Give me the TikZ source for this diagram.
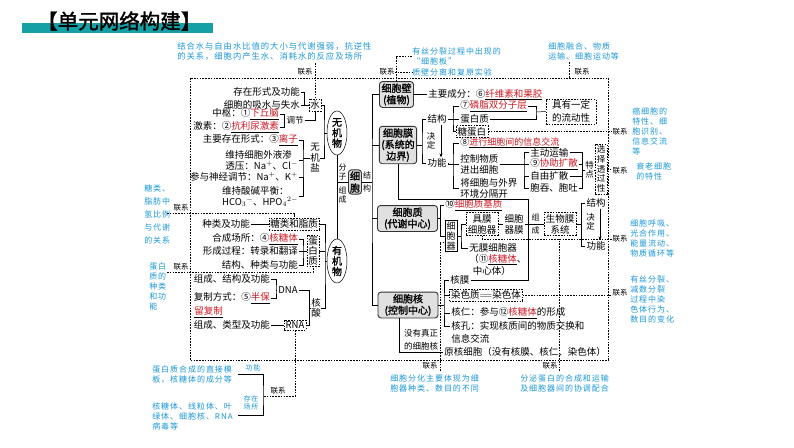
\documentclass[tikz,border=0pt]{standalone}
\usepackage{fontspec}
\setmainfont{Noto Sans CJK SC}
\newfontfamily\cjkbold{Noto Sans CJK SC}[FakeBold=1.6]
\newfontfamily\notefont{Noto Sans CJK SC}[LetterSpace=12]
\usetikzlibrary{shapes.geometric,arrows.meta}
\definecolor{handblue}{RGB}{25,150,215}
\definecolor{ansred}{RGB}{205,25,35}
\definecolor{titleteal}{RGB}{20,160,165}
\newcommand{\ans}[1]{\underline{\textcolor{ansred}{#1}}}

\begin{document}
\begin{tikzpicture}[x=1pt,y=-1pt,line width=0.5pt,
  every node/.style={inner sep=1pt,font=\fontsize{9.5}{11}\selectfont},
  bigbox/.style={draw=black!80,fill=black!12,line width=0.9pt,rounded corners=3pt,align=center,inner sep=2pt,font=\fontsize{10}{11.5}\cjkbold},
  dl/.style={dash pattern=on 1.6pt off 1.2pt,line width=0.45pt},
  dbox/.style={draw,dl,align=center,inner sep=1.5pt},
  ellnode/.style={draw,ellipse,align=center,inner sep=0pt,minimum width=20pt,minimum height=44pt,font=\fontsize{10}{10.5}\cjkbold},
  vtxt/.style={align=center,inner sep=0pt,font=\fontsize{8.5}{9.5}\selectfont},
  note/.style={text=handblue,align=left,inner sep=0pt,font=\fontsize{8}{10}\notefont},
  lianxi/.style={inner sep=0pt,font=\fontsize{7.5}{9}\selectfont}]
\useasboundingbox (0,0) rectangle (794,447);
\fill[titleteal] (22,23) rectangle (213,33);
\node[anchor=west,inner sep=0pt,font=\fontsize{20.5}{22}\cjkbold] (biaoti) at (37,21) {【单元网络构建】};
\draw[dl] (190,78) rectangle (608,360);

\node[anchor=east] (cunzai) at (301,92) {存在形式及功能};
\node[anchor=east] (xishui) at (301,105) {细胞的吸水与失水};
\node[dbox] (shui) at (315,105) {水};
\node[anchor=east] (zhongshu) at (280,114) {中枢：①\ans{下丘脑}};
\node[anchor=east] (jisu) at (280,127) {激素：②\ans{抗利尿激素}};
\node[font=\fontsize{8.5}{10}\selectfont] (tiaojie) at (295,120) {调节};
\draw (cunzai.east) -| ([xshift=3pt]xishui.east) -- (xishui.east);
\draw (xishui.east) -- (shui.west);
\draw (zhongshu.east) -| ([xshift=-1pt]tiaojie.west) |- (jisu.east);
\draw (tiaojie.east) -| (shui.south);

\node[anchor=east] (lizi) at (299,140) {主要存在形式：③\ans{离子}};
\node[anchor=east,align=left] (shentou) at (299,160) {维持细胞外液渗\\透压：Na$^+$、Cl$^-$};
\node[anchor=east] (shenjing) at (299,177) {参与神经调节：Na$^+$、K$^+$};
\node[anchor=north east,align=left] (suanjian) at (299,185) {维持酸碱平衡：\\HCO$_3{}^-$、HPO$_4{}^{2-}$};
\node[vtxt,font=\fontsize{9.5}{10.5}\selectfont] (wujiyan) at (315,158) {无\\机\\盐};
\coordinate (kyan) at (303,158);
\draw (lizi.east) -| (kyan) |- (suanjian.east);
\draw (shentou.east) -- (shentou.east -| kyan);
\draw (shenjing.east) -- (shenjing.east -| kyan);
\draw (kyan) -- (wujiyan.west);
\node[ellnode] (wujiwu) at (337,133) {无\\机\\物};
\coordinate (kwu) at (324,133);
\draw (shui.east) -| (kwu) |- (wujiyan.east);
\draw (kwu) -- (wujiwu.west);

\node[anchor=east] (zhonglei) at (251,224) {种类及功能};
\node[dbox] (tangzhi) at (294,224) {糖类和脂质};
\draw (zhonglei.east) -- (tangzhi.west);
\node[anchor=east] (hecheng) at (299,239) {合成场所：④\ans{核糖体}};
\node[anchor=east] (guocheng) at (299,251) {形成过程：转录和翻译};
\node[anchor=east] (jiegou) at (299,265) {结构、种类与功能};
\node[dbox,font=\fontsize{9.5}{10}\selectfont] (danbai) at (313,251) {蛋\\白\\质};
\coordinate (kdan) at (303,251);
\draw (hecheng.east) -| (kdan) |- (jiegou.east);
\draw (guocheng.east) -- (danbai.west);
\node[ellnode] (youjiwu) at (337,261) {有\\机\\物};

\node[anchor=east] (zuchengD) at (271,279) {组成、结构及功能};
\node[anchor=east] (fuzhi) at (271,298) {复制方式：⑤\ans{半保}};
\node[anchor=west] (liufuzhi) at (193,312) {\ans{留复制}};
\node (dna) at (288,290) {DNA};
\coordinate (kdna) at (276,290);
\draw (zuchengD.east) -| (kdna) |- (fuzhi.east);
\draw (kdna) -- (dna.west);
\node[anchor=east] (zuchengR) at (271,325) {组成、类型及功能};
\node[dbox] (rna) at (295,325) {RNA};
\draw (zuchengR.east) -- (rna.west);
\node[vtxt,font=\fontsize{9.5}{10.5}\selectfont] (hesuan) at (316,308) {核\\酸};
\coordinate (khe) at (309.5,308);
\draw (dna.east) -| (khe) |- (rna.east);
\draw (khe) -- (hesuan.west);
\coordinate (kyou) at (325,261);
\draw (tangzhi.east) -| (kyou) |- (hesuan.east);
\draw (danbai.east) -- (danbai.east -| kyou);
\draw (kyou) -- (youjiwu.west);

\node[bigbox,inner sep=1.5pt,font=\fontsize{10}{12}\cjkbold] (xibao) at (355,182) {细\\胞};
\draw (wujiwu.south) -- (youjiwu.north);
\draw (wujiwu.south |- xibao.west) -- (xibao.west);
\node[vtxt,font=\fontsize{8}{9}\selectfont] (fenzi) at (342.5,172) {分\\子};
\node[vtxt,font=\fontsize{8}{9}\selectfont] (zucheng) at (342.5,195) {组\\成};
\node[vtxt,font=\fontsize{8}{9}\selectfont] (jiegouA) at (367,182) {结\\[4pt]构};
\coordinate (kxb) at (372,182);
\draw (xibao.east) -- (kxb);

\node[bigbox] (bi) at (396.5,94.5) {细胞壁\\(植物)};
\node[bigbox] (mo) at (398,145) {细胞膜\\(系统的\\边界)};
\node[bigbox,minimum width=60pt] (zhi) at (407.5,218.5) {细胞质\\(代谢中心)};
\node[bigbox,minimum width=60pt] (he) at (408,305) {细胞核\\(控制中心)};
\draw (bi.west) -| (kxb) |- (he.west);
\draw (mo.west) -- (mo.west -| kxb);
\draw (zhi.west) -- (zhi.west -| kxb);

\node[anchor=west] (chengfen) at (427,94.5) {主要成分：⑥\ans{纤维素和果胶}};
\draw (bi.east) -- (chengfen.west);

\node (jg) at (437,119) {结构};
\node (gn) at (437,163) {功能};
\node[vtxt] (jdA) at (431,141) {决\\定};
\draw[-{Stealth[length=4pt,width=3pt]}] ([xshift=4pt]jg.south) -- ([xshift=4pt]gn.north);
\coordinate (kmo) at (422,145);
\draw (jg.west) -| (kmo) |- (gn.west);
\draw (mo.east) -- (kmo);
\node[anchor=west] (linzhi) at (459,106) {⑦\ans{磷脂双分子层}};
\node[anchor=west] (dbz) at (459,119) {蛋白质};
\node[dbox,anchor=west] (tdb) at (456,131.5) {糖蛋白};
\coordinate (kjg) at (453,119);
\draw (linzhi.west) -| (kjg) |- (tdb.west);
\draw (jg.east) -- (dbz.west);
\node[dbox,minimum width=50pt,font=\fontsize{9.5}{13}\selectfont] (liudong) at (571,111.5) {具有一定\\的流动性};
\coordinate (kld) at (536,112);
\draw (linzhi.east) -| (kld) |- (dbz.east);
\draw (kld) -- (liudong.west);

\node[anchor=west] (zhudong) at (529,152.5) {主动运输};
\node[anchor=west,font=\fontsize{9}{10}\selectfont] (xinxi) at (459,143) {⑧\ans{进行细胞间的信息交流}};
\node[anchor=west,align=left] (kongzhi) at (459,164) {控制物质\\进出细胞};
\node[anchor=west,align=left] (fenge) at (459,188) {将细胞与外界\\环境分隔开};
\coordinate (kgn) at (453,164);
\draw (xinxi.west) -| (kgn) |- (fenge.west);
\draw (gn.east) |- (kongzhi.west);
\node[anchor=west] (xiezhu) at (529,164) {⑨\ans{协助扩散}};
\node[anchor=west] (ziyou) at (529,176) {自由扩散};
\node[anchor=west] (baotun) at (529,188) {胞吞、胞吐};
\coordinate (kzd) at (524,164);
\draw (zhudong.west) -| (kzd) |- (baotun.west);
\draw (kongzhi.east) -- (xiezhu.west);
\draw (ziyou.west) -- (ziyou.west -| kzd);
\coordinate (ktd) at (582,170);
\node[vtxt] (tedian) at (589.5,170) {特\\点};
\node[dbox,font=\fontsize{8.5}{9.7}\selectfont] (xzt) at (601,169) {选\\择\\透\\过\\性};
\draw (zhudong.east) -| (ktd) |- (baotun.east);
\draw (xiezhu.east) -- (xiezhu.east -| ktd);
\draw (ziyou.east) -- (ziyou.east -| ktd);
\draw (ktd) -- (tedian.west);
\draw (tedian.east) -- (tedian.east -| xzt.west);

\node[anchor=west] (jizhi) at (444,205) {⑩\ans{细胞质基质}};
\node[draw,align=center,inner sep=1.5pt,font=\fontsize{9}{10}\selectfont] (qiguan) at (451,236) {细\\胞\\器};
\coordinate (kzhi) at (440.5,218.5);
\draw (jizhi.west) -| (kzhi) |- (qiguan.west);
\draw (zhi.east) -- (kzhi);
\node[dbox] (jumo) at (482,224) {具膜\\细胞器};
\node (wumo) at (493,248) {无膜细胞器};
\node[anchor=west,align=left,font=\fontsize{9.5}{10}\selectfont] (wumoB) at (468,264.5) {（⑪\ans{核糖体}、\\\ \,中心体）};
\coordinate (kqg) at (461,236);
\draw (jumo.west) -| (kqg) |- (wumo.west);
\draw (qiguan.east) -- (kqg);
\node[align=center] (qgm) at (514,224) {细胞\\器膜};
\draw (jumo.east) -- (qgm.west);
\coordinate (kmm) at (528,199);
\node[vtxt,font=\fontsize{8}{9}\selectfont] (zcB) at (535.5,224) {组\\[4pt]成};
\node[dbox] (smx) at (560,224) {生物膜\\系统};
\draw (qgm.east) -- (smx.west);
\node (jgB) at (596,203) {结构};
\node (gnB) at (596,246) {功能};
\node[vtxt] (jdB) at (590.5,222) {决\\定};
\draw[-{Stealth[length=4pt,width=3pt]}] ([xshift=4pt]jgB.south) -- ([xshift=4pt]gnB.north);
\coordinate (ksm) at (581,224);
\draw (jgB.west) -| (ksm) |- (gnB.west);
\draw (smx.east) -- (ksm);

\node[anchor=west] (hemo) at (449,280) {核膜};
\node[dbox] (rst) at (486,295) {染色质$=\!=$染色体};
\node[anchor=west] (heren) at (450,313) {核仁：参与⑫\ans{核糖体}的形成};
\node[anchor=west] (hekong) at (450,326) {核孔：实现核质间的物质交换和};
\node[anchor=west] (xinxiB) at (450,339) {信息交流};
\coordinate (khx) at (444,305);
\draw (hemo.west) -| (khx) |- (hekong.west);
\draw (rst.west) -- (rst.west -| khx);
\draw (heren.west) -- (heren.west -| khx);
\draw (he.east) -- (khx);
\draw (mo.south) |- (kmm) -- (kmm |- hemo.east) -- (hemo.east);
\node[anchor=west] (yuanhe) at (443,352) {原核细胞（没有核膜、核仁、染色体）};
\node[align=left,font=\fontsize{8.5}{13}\selectfont] (mei) at (421,340) {没有真正\\的细胞核};
\draw ([xshift=-9pt]he.south) |- (yuanhe.west);

\node[note,anchor=north west,font=\fontsize{8.3}{10}\notefont] (n_shui) at (177,42) {结合水与自由水比值的大小与代谢强弱，抗逆性\\的关系，细胞内产生水、消耗水的反应及场所};
\node[lianxi] (lx1) at (305,72) {联系};
\coordinate (c1) at (315,63);
\draw[dl] (c1) -- (c1 |- shui.north);
\node[note,anchor=north west] (n_bi1) at (412,47) {有丝分裂过程中出现的\\“细胞板”};
\node[note,anchor=west] (n_bi2) at (412,72) {质壁分离和复原实验};
\node[lianxi] (lx2) at (387,72) {联系};
\draw[dl] (n_bi1.west) -| (bi.north);
\draw[dl] (lx2.east) -- (n_bi2.west);
\node[note,anchor=north west] (n_mo) at (548,42) {细胞融合、物质\\运输、细胞运动等};
\node[lianxi] (lx3) at (582,72) {联系};
\coordinate (c3) at (569,62);
\coordinate (c3b) at (569,78);
\draw[dl] (c3) -- (c3b);

\node[note,anchor=north west,font=\fontsize{8}{13}\notefont] (n_tang) at (144,184) {糖类、\\脂肪中\\氢比例\\与代谢\\的关系};
\node[lianxi] (lx4) at (181,208) {联系};
\coordinate (c4) at (167,213.5);
\draw[dl] (c4) -| (tangzhi.north);
\node[note,anchor=north west] (n_dan) at (149,262) {蛋白\\质的\\种类\\和功\\能};
\node[lianxi] (lx5) at (181,267) {联系};
\coordinate (c5) at (167,272);
\draw[dl] (c5) -| (danbai.south);

\node[note,anchor=north west] (n_tdb) at (632,107) {癌细胞的\\特性、细\\胞识别、\\信息交流\\等};
\node[lianxi] (lx6) at (620,131.5) {联系};
\draw[dl] (tdb.east) -- (tdb.east -| lx6.west);
\node[note,anchor=north west] (n_xz) at (636,162) {衰老细胞\\的特性};
\node[lianxi] (lx7) at (620,171) {联系};
\draw[dl] (xzt.east) -- (xzt.east -| lx7.west);
\node[note,anchor=north west] (n_neng) at (630,219) {细胞呼吸、\\光合作用、\\能量流动、\\物质循环等};
\node[lianxi] (lx8) at (620,239) {联系};
\draw[dl] (jumo.south) |- (lx8.west);
\node[note,anchor=north west] (n_rst) at (630,276) {有丝分裂、\\减数分裂\\过程中染\\色体行为、\\数目的变化};
\node[lianxi] (lx9) at (620,293) {联系};
\draw[dl] (rst.east) -- (rst.east -| lx9.west);

\node[lianxi] (lx10) at (430,366) {联系};
\coordinate (d10) at (440,371);
\draw[dl] (d10) |- ([yshift=-6pt]qiguan.west);
\node[note,anchor=north west] (n_fh) at (390,374) {细胞分化主要体现为细\\胞器种类、数目的不同};
\node[lianxi] (lx11) at (550,366) {联系};
\coordinate (d11) at (559,371);
\draw[dl] (d11) -- (d11 |- lx8.west);
\node[note,anchor=north west] (n_fm) at (520,374) {分泌蛋白的合成和运输\\及细胞器间的协调配合};

\node[lianxi] (lx12) at (278,391) {联系};
\coordinate (d12) at (263,396);
\draw[dl] (rna.south) |- (d12);
\coordinate (b1) at (238,374);
\coordinate (b2) at (238,415);
\draw (b1) -| (d12) |- (b2);
\node[note,font=\fontsize{7}{8}\notefont] (lgn) at (253,368) {功能};
\node[note,align=center,font=\fontsize{7}{8}\notefont] (lcz) at (251,403) {存在\\场所};
\node[note,anchor=north west] (n_gn) at (152,365) {蛋白质合成的直接模\\板，核糖体的成分等};
\node[note,anchor=north west] (n_cz) at (152,402) {核糖体、线粒体、叶\\绿体、细胞核、RNA\\病毒等};
\end{tikzpicture}
\end{document}
